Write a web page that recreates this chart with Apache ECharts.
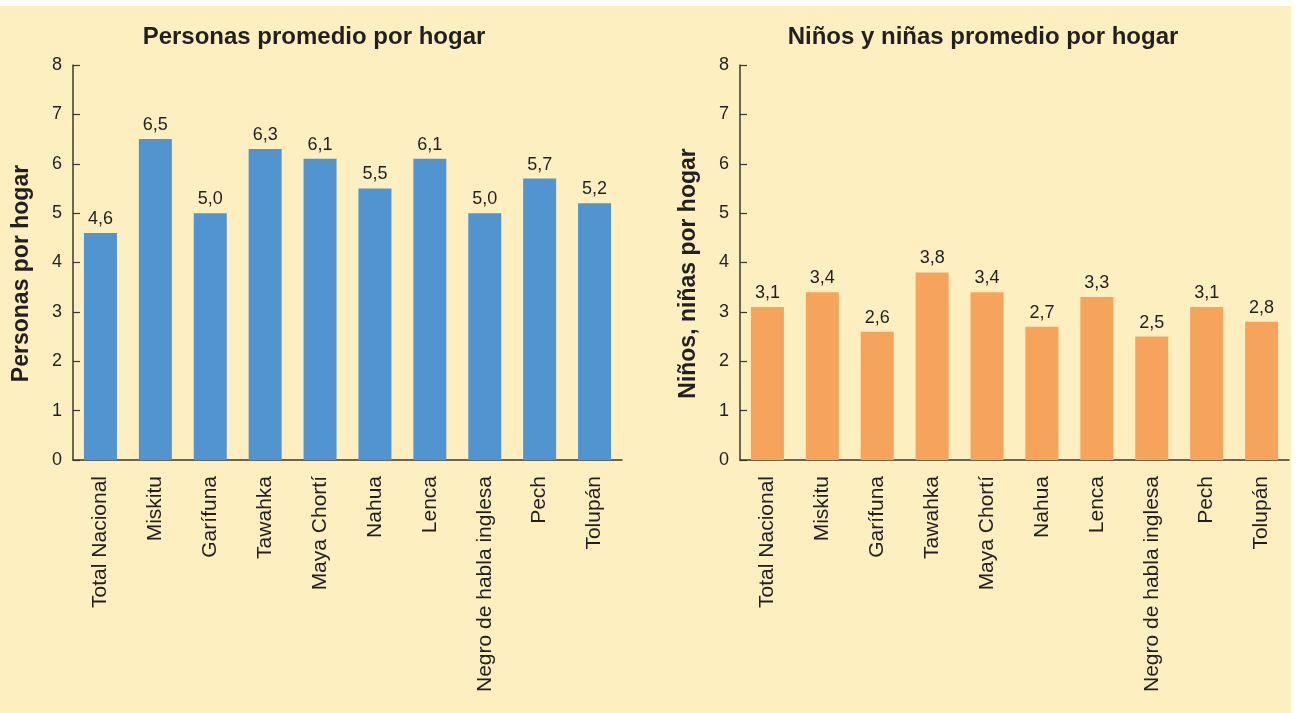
<!DOCTYPE html>
<html>
<head>
<meta charset="utf-8">
<script src="https://cdn.jsdelivr.net/npm/echarts@6/dist/echarts.min.js"></script>
<style>
html,body{margin:0;padding:0;background:#ffffff;}
#bg{position:absolute;left:0;top:6px;width:1291px;height:707px;background:#fdefc0;}
#chart{position:absolute;left:0;top:0;width:1297px;height:713px;}
</style>
</head>
<body>
<div id="bg"></div>
<div id="chart"></div>
<script>
const categories = ["Total Nacional","Miskitu","Garífuna","Tawahka","Maya Chortí","Nahua","Lenca","Negro de habla inglesa","Pech","Tolupán"];
const personas = [4.6, 6.5, 5.0, 6.3, 6.1, 5.5, 6.1, 5.0, 5.7, 5.2];
const ninos = [3.1, 3.4, 2.6, 3.8, 3.4, 2.7, 3.3, 2.5, 3.1, 2.8];
const yTicks = [0, 1, 2, 3, 4, 5, 6, 7, 8];
const titles = ["Personas promedio por hogar", "Niños y niñas promedio por hogar"];
const yNames = ["Personas por hogar", "Niños, niñas por hogar"];

const FONT = '"Liberation Sans", Arial, Helvetica, sans-serif';
const TXT = '#231f20';
const AX = '#3a3733';

const chart = echarts.init(document.getElementById('chart'), null, {renderer:'canvas'});

function xAxis(i){
  return {
    type:'category', gridIndex:i, data:categories,
    axisLine:{show:true, lineStyle:{color:AX, width:1.5}},
    axisTick:{show:false},
    axisLabel:{rotate:90, interval:0, margin:16, fontSize:21, color:TXT, fontFamily:FONT}
  };
}
function yAxis(i){
  return {
    type:'value', gridIndex:i, min:yTicks[0], max:yTicks[yTicks.length-1], interval:1,
    name:yNames[i], nameLocation:'middle', nameGap:40, nameRotate:90,
    nameTextStyle:{fontSize:23, fontWeight:'bold', color:TXT, fontFamily:FONT, padding:[0,22,0,0]},
    axisLine:{show:true, lineStyle:{color:AX, width:1.5}},
    axisTick:{show:true, inside:true, length:7, lineStyle:{color:AX, width:1.2}},
    splitLine:{show:false},
    axisLabel:{margin:11, fontSize:18, color:TXT, fontFamily:FONT}
  };
}
function fmt(p){ return p.value.toFixed(1).replace('.', ','); }

chart.setOption({
  animation:false,
  backgroundColor:'transparent',
  title:[
    {text:titles[0], left:309, top:20, textAlign:'center', textStyle:{fontSize:24, fontWeight:'bold', color:TXT, fontFamily:FONT}},
    {text:titles[1], left:978, top:20, textAlign:'center', textStyle:{fontSize:24, fontWeight:'bold', color:TXT, fontFamily:FONT}}
  ],
  grid:[
    {left:73, top:65, width:549, height:395},
    {left:740, top:65, width:549, height:395}
  ],
  xAxis:[xAxis(0), xAxis(1)],
  yAxis:[yAxis(0), yAxis(1)],
  series:[
    {type:'bar', xAxisIndex:0, yAxisIndex:0, data:personas, barWidth:33,
     itemStyle:{color:'#5294d0'},
     label:{show:true, position:'top', distance:5, formatter:fmt, fontSize:18, color:TXT, fontFamily:FONT}},
    {type:'bar', xAxisIndex:1, yAxisIndex:1, data:ninos, barWidth:33,
     itemStyle:{color:'#f6a35c'},
     label:{show:true, position:'top', distance:5, formatter:fmt, fontSize:18, color:TXT, fontFamily:FONT}}
  ]
});
</script>
</body>
</html>
